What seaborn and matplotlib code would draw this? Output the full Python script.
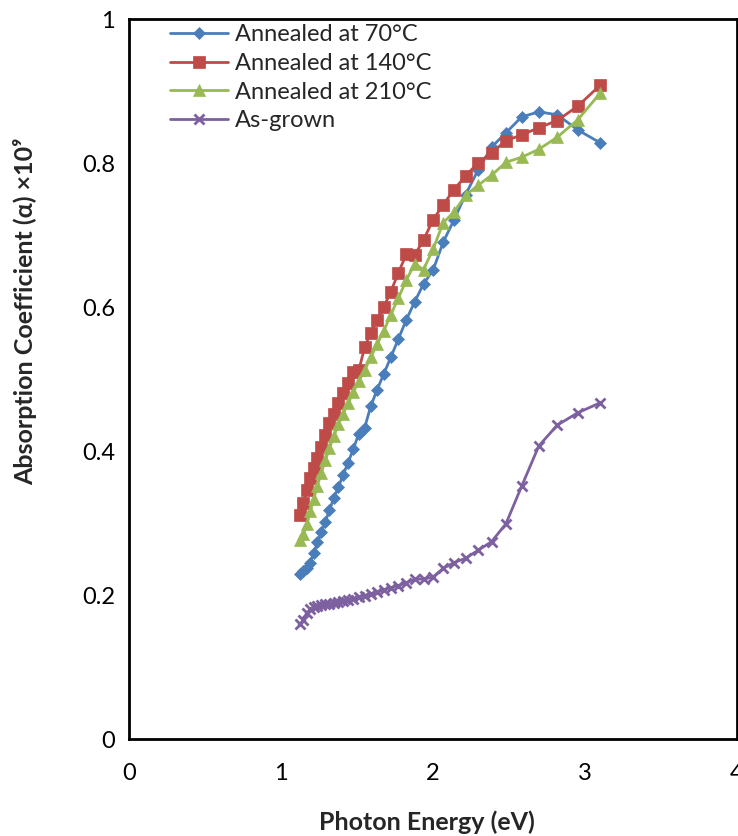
import matplotlib
matplotlib.use("Agg")
import matplotlib.pyplot as plt
import seaborn as sns
import pandas as pd
import numpy as np

sns.set_theme(style="white")
plt.rcParams['font.family'] = ['Lato', 'DejaVu Sans']

energy = [1.127, 1.148, 1.170, 1.192, 1.216, 1.240, 1.265, 1.292, 1.319, 1.348,
          1.378, 1.409, 1.442, 1.476, 1.512, 1.550, 1.590, 1.632, 1.676, 1.722,
          1.771, 1.824, 1.879, 1.9375, 2.000, 2.067, 2.138, 2.214, 2.296, 2.385,
          2.480, 2.583, 2.696, 2.818, 2.952, 3.100]

annealed_70 = [0.229, 0.233, 0.237, 0.245, 0.258, 0.273, 0.287, 0.302, 0.318, 0.335,
               0.350, 0.367, 0.384, 0.403, 0.424, 0.432, 0.462, 0.485, 0.507, 0.530,
               0.555, 0.582, 0.607, 0.632, 0.651, 0.690, 0.721, 0.756, 0.790, 0.822,
               0.842, 0.864, 0.871, 0.867, 0.846, 0.828]

annealed_140 = [0.311, 0.328, 0.346, 0.362, 0.376, 0.390, 0.406, 0.422, 0.439, 0.452,
                0.467, 0.480, 0.494, 0.510, 0.512, 0.544, 0.564, 0.582, 0.600, 0.621,
                0.647, 0.673, 0.672, 0.693, 0.721, 0.742, 0.763, 0.782, 0.800, 0.814,
                0.831, 0.839, 0.849, 0.859, 0.879, 0.908]

annealed_210 = [0.277, 0.285, 0.298, 0.316, 0.334, 0.352, 0.370, 0.387, 0.404, 0.421,
                0.437, 0.452, 0.466, 0.482, 0.497, 0.512, 0.530, 0.548, 0.567, 0.589,
                0.612, 0.637, 0.660, 0.652, 0.680, 0.717, 0.732, 0.755, 0.769, 0.783,
                0.801, 0.808, 0.819, 0.836, 0.860, 0.897]

as_grown = [0.160, 0.165, 0.175, 0.180, 0.183, 0.185, 0.186, 0.187, 0.188, 0.189,
            0.190, 0.192, 0.193, 0.195, 0.197, 0.199, 0.202, 0.204, 0.207, 0.210,
            0.213, 0.217, 0.222, 0.222, 0.225, 0.237, 0.245, 0.251, 0.262, 0.274,
            0.299, 0.351, 0.407, 0.436, 0.453, 0.467]

series_names = ["Annealed at 70°C", "Annealed at 140°C", "Annealed at 210°C", "As-grown"]
series_values = [annealed_70, annealed_140, annealed_210, as_grown]

x_ticks = [0, 1, 2, 3, 4]
y_ticks = [0, 0.2, 0.4, 0.6, 0.8, 1]
y_tick_labels = ["0", "0.2", "0.4", "0.6", "0.8", "1"]

colors = ["#4A7EBB", "#BE4B48", "#98B954", "#7D60A0"]
markers = ["D", "s", "^", "x"]
msizes = [6.5, 8.5, 9, 7]

W, H = 738, 836
fig = plt.figure(figsize=(W / 100, H / 100), dpi=100)
ax = fig.add_axes([129 / W, 1 - 739 / H, (737 - 129) / W, (739 - 19) / H])

for name, vals, c, m, s in zip(series_names, series_values, colors, markers, msizes):
    df = pd.DataFrame({"x": energy, "y": vals})
    sns.lineplot(data=df, x="x", y="y", ax=ax, color=c, marker=m, markersize=s,
                 markeredgecolor=c, markeredgewidth=2 if m == "x" else 0.5,
                 linewidth=2, label=name, sort=False, estimator=None)

ax.set_xlim(0, 4)
ax.set_ylim(0, 1)
ax.set_xticks(x_ticks)
ax.set_xticklabels([str(t) for t in x_ticks])
ax.set_yticks(y_ticks)
ax.set_yticklabels(y_tick_labels)
ax.tick_params(axis="both", which="major", direction="out", length=6, width=1.2,
               color="#868686", labelsize=17, labelcolor="black")
ax.tick_params(axis="y", pad=4)
ax.tick_params(axis="x", pad=11)

for sp in ax.spines.values():
    sp.set_visible(True)
    sp.set_color("black")
    sp.set_linewidth(2)

ax.set_xlabel("Photon Energy (eV)", fontsize=18, fontweight="bold")
ax.xaxis.set_label_coords((427 - 129) / 608, -(822 - 739) / 720)
ax.xaxis.label.set_va("center")
ax.set_ylabel("Absorption Coefficient (α) ×10⁹", fontsize=18, fontweight="bold")
ax.yaxis.set_label_coords((25 - 129) / 608, (739 - 311) / 720)
ax.yaxis.label.set_va("center")

leg = ax.legend(loc="upper left", bbox_to_anchor=(170 / W, 1 - 24 / H),
                bbox_transform=fig.transFigure, frameon=False, fontsize=17,
                handlelength=2.45, handletextpad=0.3, labelspacing=0.33,
                borderaxespad=0, borderpad=0)

fig.savefig("out.png", dpi=100, facecolor="white")
